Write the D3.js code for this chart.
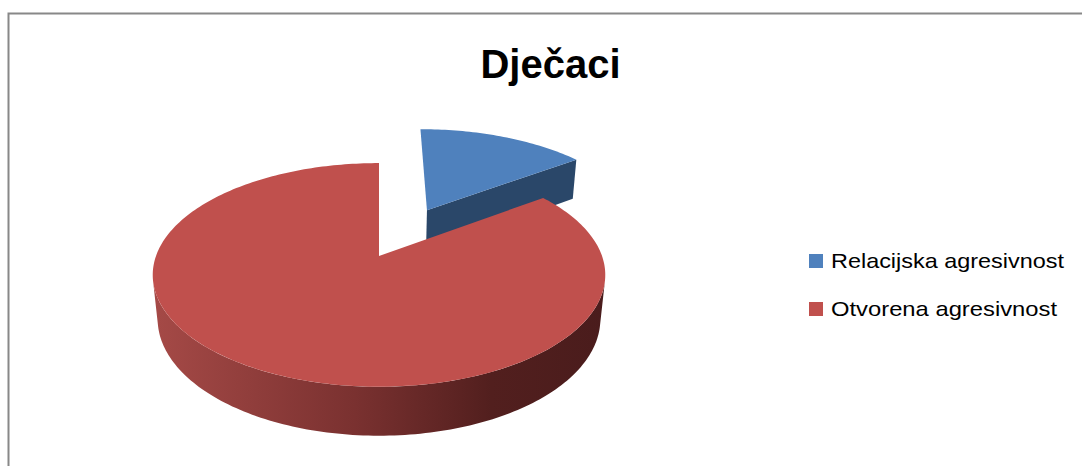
<!DOCTYPE html>
<html>
<head>
<meta charset="utf-8">
<script src="https://d3js.org/d3.v7.min.js"></script>
<style>
  body { margin: 0; background: #fff; }
  text { font-family: "Liberation Sans", Arial, sans-serif; }
</style>
</head>
<body>
<script>
  // data
  var title = "Dječaci";
  var categories = ["Relacijska agresivnost", "Otvorena agresivnost"];
  var values = [15, 85];
  var colors = ["#4F81BD", "#C0504D"];
  var sideColors = ["#2A4769", "url(#redSide)"];
  var explode = [0.51, 0];
  var legendWidths = [233, 226];

  var width = 1082, height = 466;
  var svg = d3.select("body").append("svg")
    .attr("width", width).attr("height", height);

  // frame (only top and left edges are in view)
  svg.append("path")
    .attr("d", "M8.5," + height + "V13.5H" + width)
    .attr("fill", "none").attr("stroke", "#888").attr("stroke-width", 2);

  // red side gradient
  var grad = svg.append("defs").append("linearGradient")
    .attr("id", "redSide").attr("gradientUnits", "userSpaceOnUse")
    .attr("x1", 150).attr("x2", 605).attr("y1", 0).attr("y2", 0);
  grad.append("stop").attr("offset", 0).attr("stop-color", "#A64A47");
  grad.append("stop").attr("offset", 0.45).attr("stop-color", "#7A3130");
  grad.append("stop").attr("offset", 0.75).attr("stop-color", "#521F1E");
  grad.append("stop").attr("offset", 1).attr("stop-color", "#4A1C1C");

  // simple perspective camera
  var camD = 5.17, alpha = 29.15 * Math.PI / 180, focal = 1153, thick = 0.229;
  var cx = 379, cy = 256;
  var sinA = Math.sin(alpha), cosA = Math.cos(alpha);
  var camZ = -camD * cosA;
  var rScale = d3.scaleLinear().domain([0, 1]).range([0, 1]);

  function proj(X, Y, Z) {
    var d = camD + Z * cosA - Y * sinA;
    var u = Z * sinA + Y * cosA;
    return [cx + focal * X / d, cy - focal * u / d];
  }

  var pie = d3.pie().sort(null).value(function(d) { return d; });
  var arcs = pie(values);
  var line = d3.line();

  function arcPts(a0, a1, ox, oz, y) {
    var n = Math.max(2, Math.ceil((a1 - a0) / 0.02));
    return d3.range(n + 1).map(function(i) {
      var t = a0 + (a1 - a0) * i / n;
      return proj(ox + rScale(1) * Math.sin(t), y, oz + rScale(1) * Math.cos(t));
    });
  }

  // far slices first
  var order = arcs.map(function(a, i) { return i; });
  order.sort(function(a, b) {
    var ma = (arcs[a].startAngle + arcs[a].endAngle) / 2, mb = (arcs[b].startAngle + arcs[b].endAngle) / 2;
    return Math.cos(mb) - Math.cos(ma);
  });

  var g = svg.append("g");
  order.forEach(function(i) {
    var a = arcs[i];
    var mid = (a.startAngle + a.endAngle) / 2;
    var ox = explode[i] * Math.sin(mid), oz = explode[i] * Math.cos(mid);
    var sg = g.append("g");

    // outer wall, visible part only
    var vis = d3.range(a.startAngle, a.endAngle, 0.01).filter(function(t) {
      return -ox * Math.sin(t) + (camZ - oz) * Math.cos(t) - 1 > 0;
    });
    if (vis.length > 1) {
      var t0 = vis[0], t1 = vis[vis.length - 1];
      var pts = arcPts(t0, t1, ox, oz, 0).concat(arcPts(t0, t1, ox, oz, -thick).reverse());
      sg.append("path").attr("d", line(pts) + "Z").attr("fill", sideColors[i]);
    }

    // radial faces (skip near edge-on ones)
    [a.startAngle, a.endAngle].forEach(function(t, k) {
      var nx = Math.cos(t), nz = -Math.sin(t);
      if (k === 0) { nx = -nx; nz = -nz; }
      var v = (0 - ox) * nx + (camZ - oz) * nz;
      if (v > 0.5) {
        var pts = [proj(ox, 0, oz),
          proj(ox + Math.sin(t), 0, oz + Math.cos(t)),
          proj(ox + Math.sin(t), -thick, oz + Math.cos(t)),
          proj(ox, -thick, oz)];
        sg.append("path").attr("d", line(pts) + "Z").attr("fill", sideColors[i]);
      }
    });

    // top face
    var top = [proj(ox, 0, oz)].concat(arcPts(a.startAngle, a.endAngle, ox, oz, 0));
    sg.append("path").attr("d", line(top) + "Z").attr("fill", colors[i]);
  });

  // title
  svg.append("text")
    .attr("x", 550.5).attr("y", 78)
    .attr("text-anchor", "middle")
    .attr("font-size", 40).attr("font-weight", "bold")
    .attr("fill", "#000")
    .text(title);

  // legend
  var legend = svg.append("g").selectAll("g")
    .data(categories).enter().append("g")
    .attr("transform", function(d, i) { return "translate(809," + (254 + i * 48) + ")"; });
  legend.append("rect")
    .attr("width", 14).attr("height", 14)
    .attr("fill", function(d, i) { return colors[i]; });
  legend.append("text")
    .attr("x", 22).attr("y", 14)
    .attr("font-size", 21).attr("fill", "#000")
    .attr("textLength", function(d, i) { return legendWidths[i]; })
    .attr("lengthAdjust", "spacingAndGlyphs")
    .text(function(d) { return d; });
</script>
</body>
</html>
